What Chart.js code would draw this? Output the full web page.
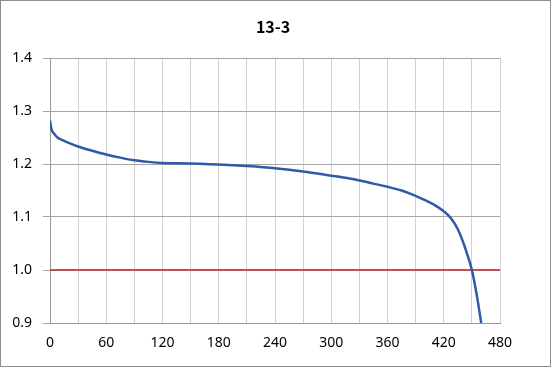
<!DOCTYPE html>
<html>
<head>
<meta charset="utf-8">
<script src="https://cdn.jsdelivr.net/npm/chart.js@4/dist/chart.umd.min.js"></script>
<style>
  body { margin: 0; background: #fff; }
  canvas { display: block; }
</style>
</head>
<body>
<canvas id="chart" width="551" height="367"></canvas>
<script>
/* ── Data ──────────────────────────────────────────────── */
const chartTitle = '13-3';
const timeValues = [0, 1.5, 4, 8, 12, 20, 30, 45, 60, 75, 90, 105, 120, 150, 165, 180,
  210, 240, 270, 300, 318, 330, 345, 360, 375, 390, 400, 410, 420, 425, 430, 435,
  440, 445, 450, 455, 460];
const voltageValues = [1.282, 1.266, 1.258, 1.250, 1.246, 1.240, 1.233, 1.225, 1.218, 1.212,
  1.207, 1.204, 1.202, 1.201, 1.200, 1.199, 1.196, 1.192, 1.186, 1.178, 1.173, 1.169,
  1.163, 1.157, 1.150, 1.140, 1.132, 1.123, 1.111, 1.103, 1.092, 1.077, 1.056, 1.030,
  1.000, 0.955, 0.900];
const cutoffTimes = [0, 480];
const cutoffValues = [1.0, 1.0];
const xTickLabels = [0, 60, 120, 180, 240, 300, 360, 420, 480];
const yTickLabels = ['0.9', '1.0', '1.1', '1.2', '1.3', '1.4'];

const toPoints = (xs, ys) => xs.map((x, i) => ({ x, y: ys[i] }));

/* ── Title + outer frame ───────────────────────────────── */
const framePlugin = {
  id: 'frame',
  afterDraw(chart) {
    const ctx = chart.ctx;
    ctx.save();
    ctx.fillStyle = '#000';
    ctx.font = "bold 16px 'Noto Sans CJK JP', sans-serif";
    ctx.textAlign = 'center';
    ctx.textBaseline = 'middle';
    ctx.fillText(chartTitle, 273, 27);
    ctx.strokeStyle = '#8c8c8c';
    ctx.lineWidth = 1;
    ctx.strokeRect(0.5, 0.5, chart.width - 1, chart.height - 1);
    ctx.restore();
  }
};

/* ── Chart ─────────────────────────────────────────────── */
const tickFont = { family: "'Noto Sans', sans-serif", size: 14 };

new Chart(document.getElementById('chart'), {
  type: 'line',
  data: {
    datasets: [
      {
        data: toPoints(timeValues, voltageValues),
        borderColor: '#3159aa',
        borderWidth: 2.5,
        pointRadius: 0,
        cubicInterpolationMode: 'monotone',
      },
      {
        data: toPoints(cutoffTimes, cutoffValues),
        borderColor: '#c0504d',
        borderWidth: 2,
        pointRadius: 0,
      },
    ],
  },
  options: {
    responsive: false,
    animation: false,
    layout: { padding: { left: 0, right: 51, top: 58, bottom: 0 } },
    plugins: {
      legend: { display: false },
      tooltip: { enabled: false },
      title: { display: false },
    },
    scales: {
      x: {
        type: 'linear',
        min: 0,
        max: 480,
        afterFit: s => { s.height = 44; },
        ticks: {
          stepSize: 30,
          autoSkip: false,
          maxRotation: 0,
          padding: 12,
          color: '#000',
          font: tickFont,
          callback: v => (xTickLabels.includes(v) ? String(v) : ''),
        },
        grid: { color: '#d2d2d2', drawTicks: false },
        border: { color: '#9a9a9a' },
      },
      y: {
        min: 0.9,
        max: 1.4,
        afterFit: s => { s.width = 50; },
        ticks: {
          stepSize: 0.1,
          padding: 11,
          color: '#000',
          font: tickFont,
          callback: (v, i) => yTickLabels[i],
        },
        grid: { color: '#a6a6a6', tickLength: 7 },
        border: { color: '#9a9a9a' },
      },
    },
  },
  plugins: [framePlugin],
});
</script>
</body>
</html>
